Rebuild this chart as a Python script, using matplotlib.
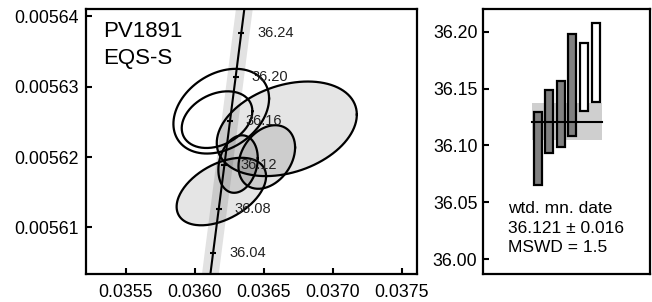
import matplotlib
matplotlib.use('Agg')
import matplotlib.pyplot as plt
import numpy as np

plt.rcParams['font.family'] = ['Liberation Sans', 'DejaVu Sans']

# concordia curve (207Pb/235U, 206Pb/238U) and its age ticks
conc_ages = [36.00, 36.04, 36.08, 36.12, 36.16, 36.20, 36.24, 36.28]
conc_x = [0.0360906, 0.0361314, 0.0361722, 0.0362130, 0.0362539, 0.0362947, 0.0363356, 0.0363765]
conc_y = [0.0056001, 0.0056064, 0.0056126, 0.0056188, 0.0056251, 0.0056313, 0.0056376, 0.0056438]
tick_labels = ['36.04', '36.08', '36.12', '36.16', '36.20', '36.24']

# error ellipses: centre, half extents, correlation
ell_cx = [0.0361913, 0.0363125, 0.0365207, 0.0366658, 0.0361601, 0.0361906]
ell_cy = [0.0056151, 0.0056190, 0.0056200, 0.0056240, 0.0056253, 0.0056265]
ell_sx = [0.0003243, 0.0001429, 0.0002053, 0.0005078, 0.0002561, 0.0003468]
ell_sy = [4.79e-6, 4.08e-6, 4.51e-6, 6.71e-6, 4.02e-6, 6.01e-6]
ell_rho = [0.45, 0.2, 0.3, 0.3, 0.3, 0.3]
ell_used = [True, True, True, True, False, False]

# ranked dates (bars)
bar_lo = [36.065, 36.093, 36.099, 36.108, 36.130, 36.138]
bar_hi = [36.129, 36.149, 36.157, 36.198, 36.190, 36.208]
wtd_mean = 36.121
wtd_err = 0.016
mswd = 1.5

fig = plt.figure(figsize=(6.52, 3.02), dpi=100)
ax = fig.add_axes([0.1319, 0.0927, 0.5077, 0.8775])
ax2 = fig.add_axes([0.7408, 0.0927, 0.2561, 0.8775])

# concordia band + line
ax.plot(conc_x, conc_y, color='#e2e2e2', lw=12, solid_capstyle='butt', zorder=1)

t = np.linspace(0, 2 * np.pi, 200)
for cx, cy, sx, sy, r, used in zip(ell_cx, ell_cy, ell_sx, ell_sy, ell_rho, ell_used):
    ex = cx + sx * np.cos(t)
    ey = cy + sy * (r * np.cos(t) + np.sqrt(1 - r ** 2) * np.sin(t))
    if used:
        ax.fill(ex, ey, color='black', alpha=0.1, lw=0, zorder=2)
    ax.plot(ex, ey, color='black', lw=1.6, zorder=3)

ax.plot(conc_x, conc_y, color='black', lw=1.5, zorder=4)
ax.plot(conc_x[1:7], conc_y[1:7], ls='none', marker='_', ms=5, mew=1.5, color='black', zorder=4)
for x, y, lab in zip(conc_x[1:7], conc_y[1:7], tick_labels):
    ax.annotate(lab, xy=(x, y), xytext=(11.5, 0), textcoords='offset points',
                va='center', ha='left', fontsize=10.5, color='#222222', zorder=5)

ax.set_xlim(0.03521, 0.03761)
ax.set_ylim(0.0056034, 0.005641)
ax.set_xticks([0.0355, 0.0360, 0.0365, 0.0370, 0.0375])
ax.set_xticklabels(['0.0355', '0.0360', '0.0365', '0.0370', '0.0375'])
ax.set_yticks([0.00561, 0.00562, 0.00563, 0.00564])
ax.set_yticklabels(['0.00561', '0.00562', '0.00563', '0.00564'])
ax.tick_params(direction='in', length=4.5, width=1.5, labelsize=12.8)
ax.tick_params(axis='x', pad=7)
ax.tick_params(axis='y', pad=5)
for s in ax.spines.values():
    s.set_linewidth(1.6)
ax.text(0.051, 0.955, 'PV1891\nEQS-S', transform=ax.transAxes, fontsize=16,
        va='top', ha='left', linespacing=1.4)

# weighted mean panel
idx = np.arange(1, len(bar_lo) + 1)
ax2.fill_between([0.51, 6.54], wtd_mean - wtd_err, wtd_mean + wtd_err, color='#cfcfcf', lw=0, zorder=1)
colors = ['#808080' if u else 'white' for u in ell_used]
ax2.bar(idx, np.array(bar_hi) - np.array(bar_lo), bottom=bar_lo, width=0.7,
        color=colors, edgecolor='black', lw=1.6, zorder=2)
ax2.plot([0.51, 6.54], [wtd_mean, wtd_mean], color='black', lw=1.5, zorder=3)
ax2.set_xlim(-3.7, 10.68)
ax2.set_ylim(35.987, 36.22)
ax2.set_xticks([])
ax2.set_yticks([36.00, 36.05, 36.10, 36.15, 36.20])
ax2.set_yticklabels(['36.00', '36.05', '36.10', '36.15', '36.20'])
ax2.tick_params(direction='in', length=4.5, width=1.5, labelsize=12.8, pad=4)
for s in ax2.spines.values():
    s.set_linewidth(1.6)
ax2.text(0.15, 0.07, 'wtd. mn. date\n%.3f \u00b1 %.3f\nMSWD = %.1f' % (wtd_mean, wtd_err, mswd),
         transform=ax2.transAxes, fontsize=12.5, va='bottom', ha='left', linespacing=1.38)

fig.savefig('out.png', dpi=100)
